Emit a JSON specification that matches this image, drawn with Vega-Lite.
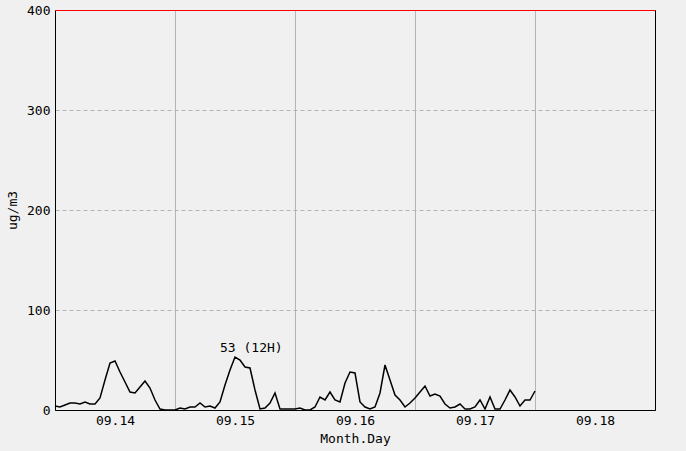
{
  "$schema": "https://vega.github.io/schema/vega-lite/v6.json",
  "width": 600,
  "height": 400,
  "autosize": {"type": "none"},
  "padding": {"left": 55, "top": 10, "right": 31, "bottom": 41},
  "background": "#f0f0f0",
  "config": {
    "view": {"stroke": "#000000", "strokeWidth": 1, "fill": "#f0f0f0"},
    "font": "DejaVu Sans Mono",
    "axis": {
      "labelFont": "DejaVu Sans Mono",
      "labelFontSize": 13,
      "labelColor": "#000000",
      "titleFont": "DejaVu Sans Mono",
      "titleFontSize": 13,
      "titleFontWeight": "normal",
      "titleColor": "#000000",
      "domainColor": "#000000",
      "ticks": false
    }
  },
  "data": {
    "values": [
      {"time": "2023-09-14T00:00:00Z", "value": 4},
      {"time": "2023-09-14T01:00:00Z", "value": 3},
      {"time": "2023-09-14T02:00:00Z", "value": 5},
      {"time": "2023-09-14T03:00:00Z", "value": 7},
      {"time": "2023-09-14T04:00:00Z", "value": 7},
      {"time": "2023-09-14T05:00:00Z", "value": 6},
      {"time": "2023-09-14T06:00:00Z", "value": 8},
      {"time": "2023-09-14T07:00:00Z", "value": 6},
      {"time": "2023-09-14T08:00:00Z", "value": 6},
      {"time": "2023-09-14T09:00:00Z", "value": 12},
      {"time": "2023-09-14T10:00:00Z", "value": 30},
      {"time": "2023-09-14T11:00:00Z", "value": 47},
      {"time": "2023-09-14T12:00:00Z", "value": 49},
      {"time": "2023-09-14T13:00:00Z", "value": 38},
      {"time": "2023-09-14T14:00:00Z", "value": 28},
      {"time": "2023-09-14T15:00:00Z", "value": 18},
      {"time": "2023-09-14T16:00:00Z", "value": 17},
      {"time": "2023-09-14T17:00:00Z", "value": 23},
      {"time": "2023-09-14T18:00:00Z", "value": 29},
      {"time": "2023-09-14T19:00:00Z", "value": 22},
      {"time": "2023-09-14T20:00:00Z", "value": 10},
      {"time": "2023-09-14T21:00:00Z", "value": 1},
      {"time": "2023-09-14T22:00:00Z", "value": 0},
      {"time": "2023-09-14T23:00:00Z", "value": 0},
      {"time": "2023-09-15T00:00:00Z", "value": 0},
      {"time": "2023-09-15T01:00:00Z", "value": 2},
      {"time": "2023-09-15T02:00:00Z", "value": 1},
      {"time": "2023-09-15T03:00:00Z", "value": 3},
      {"time": "2023-09-15T04:00:00Z", "value": 3},
      {"time": "2023-09-15T05:00:00Z", "value": 7},
      {"time": "2023-09-15T06:00:00Z", "value": 3},
      {"time": "2023-09-15T07:00:00Z", "value": 4},
      {"time": "2023-09-15T08:00:00Z", "value": 2},
      {"time": "2023-09-15T09:00:00Z", "value": 8},
      {"time": "2023-09-15T10:00:00Z", "value": 25},
      {"time": "2023-09-15T11:00:00Z", "value": 40},
      {"time": "2023-09-15T12:00:00Z", "value": 53},
      {"time": "2023-09-15T13:00:00Z", "value": 50},
      {"time": "2023-09-15T14:00:00Z", "value": 43},
      {"time": "2023-09-15T15:00:00Z", "value": 42},
      {"time": "2023-09-15T16:00:00Z", "value": 20},
      {"time": "2023-09-15T17:00:00Z", "value": 1},
      {"time": "2023-09-15T18:00:00Z", "value": 2},
      {"time": "2023-09-15T19:00:00Z", "value": 7},
      {"time": "2023-09-15T20:00:00Z", "value": 17},
      {"time": "2023-09-15T21:00:00Z", "value": 1},
      {"time": "2023-09-15T22:00:00Z", "value": 1},
      {"time": "2023-09-15T23:00:00Z", "value": 1},
      {"time": "2023-09-16T00:00:00Z", "value": 1},
      {"time": "2023-09-16T01:00:00Z", "value": 2},
      {"time": "2023-09-16T02:00:00Z", "value": 0},
      {"time": "2023-09-16T03:00:00Z", "value": 0},
      {"time": "2023-09-16T04:00:00Z", "value": 3},
      {"time": "2023-09-16T05:00:00Z", "value": 13},
      {"time": "2023-09-16T06:00:00Z", "value": 10},
      {"time": "2023-09-16T07:00:00Z", "value": 18},
      {"time": "2023-09-16T08:00:00Z", "value": 10},
      {"time": "2023-09-16T09:00:00Z", "value": 8},
      {"time": "2023-09-16T10:00:00Z", "value": 27},
      {"time": "2023-09-16T11:00:00Z", "value": 38},
      {"time": "2023-09-16T12:00:00Z", "value": 37},
      {"time": "2023-09-16T13:00:00Z", "value": 8},
      {"time": "2023-09-16T14:00:00Z", "value": 3},
      {"time": "2023-09-16T15:00:00Z", "value": 1},
      {"time": "2023-09-16T16:00:00Z", "value": 3},
      {"time": "2023-09-16T17:00:00Z", "value": 17},
      {"time": "2023-09-16T18:00:00Z", "value": 45},
      {"time": "2023-09-16T19:00:00Z", "value": 30},
      {"time": "2023-09-16T20:00:00Z", "value": 15},
      {"time": "2023-09-16T21:00:00Z", "value": 10},
      {"time": "2023-09-16T22:00:00Z", "value": 3},
      {"time": "2023-09-16T23:00:00Z", "value": 7},
      {"time": "2023-09-17T00:00:00Z", "value": 12},
      {"time": "2023-09-17T01:00:00Z", "value": 18},
      {"time": "2023-09-17T02:00:00Z", "value": 24},
      {"time": "2023-09-17T03:00:00Z", "value": 14},
      {"time": "2023-09-17T04:00:00Z", "value": 16},
      {"time": "2023-09-17T05:00:00Z", "value": 14},
      {"time": "2023-09-17T06:00:00Z", "value": 6},
      {"time": "2023-09-17T07:00:00Z", "value": 2},
      {"time": "2023-09-17T08:00:00Z", "value": 3},
      {"time": "2023-09-17T09:00:00Z", "value": 6},
      {"time": "2023-09-17T10:00:00Z", "value": 1},
      {"time": "2023-09-17T11:00:00Z", "value": 1},
      {"time": "2023-09-17T12:00:00Z", "value": 3},
      {"time": "2023-09-17T13:00:00Z", "value": 10},
      {"time": "2023-09-17T14:00:00Z", "value": 1},
      {"time": "2023-09-17T15:00:00Z", "value": 13},
      {"time": "2023-09-17T16:00:00Z", "value": 1},
      {"time": "2023-09-17T17:00:00Z", "value": 1},
      {"time": "2023-09-17T18:00:00Z", "value": 10},
      {"time": "2023-09-17T19:00:00Z", "value": 20},
      {"time": "2023-09-17T20:00:00Z", "value": 13},
      {"time": "2023-09-17T21:00:00Z", "value": 4},
      {"time": "2023-09-17T22:00:00Z", "value": 10},
      {"time": "2023-09-17T23:00:00Z", "value": 10},
      {"time": "2023-09-18T00:00:00Z", "value": 19}
    ]
  },
  "layer": [
    {
      "data": {
        "values": [
          {"time": "2023-09-15T00:00:00Z"},
          {"time": "2023-09-16T00:00:00Z"},
          {"time": "2023-09-17T00:00:00Z"},
          {"time": "2023-09-18T00:00:00Z"}
        ]
      },
      "mark": {"type": "rule", "color": "#b4b4b4", "strokeWidth": 1, "xOffset": 0.5},
      "encoding": {
        "x": {"field": "time", "type": "temporal"}
      }
    },
    {
      "mark": {"type": "line", "color": "#000000", "strokeWidth": 1.5, "interpolate": "linear"},
      "encoding": {
        "x": {
          "field": "time",
          "type": "temporal",
          "scale": {
            "type": "utc",
            "domain": [
              {"year": 2023, "month": 9, "date": 14, "utc": true},
              {"year": 2023, "month": 9, "date": 19, "utc": true}
            ]
          },
          "axis": {
            "title": "Month.Day",
            "grid": false,
            "values": [
              {"year": 2023, "month": 9, "date": 14, "hours": 12, "utc": true},
              {"year": 2023, "month": 9, "date": 15, "hours": 12, "utc": true},
              {"year": 2023, "month": 9, "date": 16, "hours": 12, "utc": true},
              {"year": 2023, "month": 9, "date": 17, "hours": 12, "utc": true},
              {"year": 2023, "month": 9, "date": 18, "hours": 12, "utc": true}
            ],
            "labelExpr": "utcFormat(datum.value, '%m.%d')",
            "labelPadding": 4,
            "titleY": 28,
            "titleBaseline": "middle"
          }
        },
        "y": {
          "field": "value",
          "type": "quantitative",
          "scale": {"domain": [0, 400], "nice": false},
          "axis": {
            "title": "ug/m3",
            "values": [0, 100, 200, 300, 400],
            "grid": true,
            "gridColor": "#b4b4b4",
            "gridDash": [4, 3],
            "labelPadding": 5,
            "titleX": -43,
            "titleY": 200,
            "titleBaseline": "middle"
          }
        }
      }
    },
    {
      "mark": {"type": "rule", "color": "#ff0000", "strokeWidth": 1, "yOffset": 0.5},
      "encoding": {"y": {"datum": 400}}
    },
    {
      "data": {
        "values": [
          {"time": "2023-09-15T12:00:00Z", "value": 53, "label": "53 (12H)"}
        ]
      },
      "mark": {"type": "text", "align": "left", "baseline": "bottom", "dx": -15, "dy": -2, "font": "DejaVu Sans Mono", "fontSize": 13, "color": "#000000"},
      "encoding": {
        "x": {"field": "time", "type": "temporal"},
        "y": {"field": "value", "type": "quantitative"},
        "text": {"field": "label"}
      }
    }
  ]
}
